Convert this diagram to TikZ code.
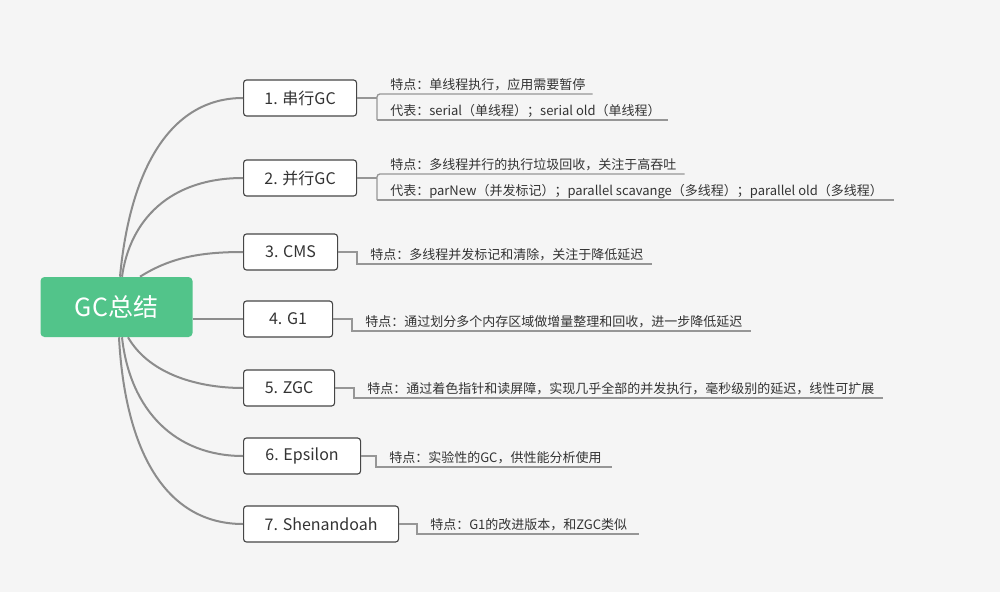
\documentclass[tikz,border=0pt]{standalone}
\usepackage{fontspec}
\setmainfont{Noto Sans CJK SC}
\usetikzlibrary{calc}
\newdimen\pxu \pxu=0.75pt
\newcommand\leaftext[2]{\makebox[#1\pxu][l]{\hspace{13\pxu}#2}}
\definecolor{bg}{RGB}{245,245,245}
\definecolor{rootgreen}{RGB}{82,196,138}
\definecolor{edgegray}{RGB}{140,140,140}
\definecolor{leafgray}{RGB}{150,150,150}
\definecolor{boxline}{RGB}{70,70,70}
\definecolor{txt}{RGB}{51,51,51}
\begin{document}
\begin{tikzpicture}[x=0.75pt,y=-0.75pt,
  rootbox/.style={fill=rootgreen, rounded corners=4\pxu, minimum width=152*0.75pt,
    minimum height=60*0.75pt, inner sep=0pt, text=white, font=\fontsize{18.75}{22}\selectfont},
  childbox/.style={draw=boxline, line width=0.85pt, fill=white, rounded corners=3\pxu,
    minimum height=36*0.75pt, minimum width=#1*0.75pt, inner sep=0pt, anchor=west,
    text=txt, font=\fontsize{12}{14}\selectfont},
  leaf/.style={anchor=south west, inner xsep=0pt, inner ysep=2\pxu, text height=10\pxu,
    text depth=2.5\pxu, text=txt, font=\fontsize{9.75}{12}\selectfont},
  edge/.style={draw=edgegray, line width=1.5pt},
  leafline/.style={draw=leafgray, line width=1pt}]
\useasboundingbox (0,0) rectangle (1000,592);
\fill[bg] (0,0) rectangle (1000,592);

\node[rootbox] (r) at (116.5,307) {GC总结};

\node[childbox=113] (c1) at (243,98)  {1. 串行GC};
\node[childbox=113] (c2) at (243,178) {2. 并行GC};
\node[childbox=94]  (c3) at (243,252) {3. CMS};
\node[childbox=89]  (c4) at (243,319) {4. G1};
\node[childbox=91]  (c5) at (243,388) {5. ZGC};
\node[childbox=117] (c6) at (243,456) {6. Epsilon};
\node[childbox=155] (c7) at (243,524) {7. Shenandoah};

\node[leaf] (l1a) at (377,94)  {\leaftext{215}{特点：单线程执行，应用需要暂停}};
\node[leaf] (l1b) at (377,120) {\leaftext{290}{代表：serial（单线程）；serial old（单线程）}};
\node[leaf] (l2a) at (377,174) {\leaftext{307}{特点：多线程并行的执行垃圾回收，关注于高吞吐}};
\node[leaf] (l2b) at (377,200) {\leaftext{516}{代表：parNew（并发标记）；parallel scavange（多线程）；parallel old（多线程）}};
\node[leaf] (l3) at (357,264) {\leaftext{294}{特点：多线程并发标记和清除，关注于降低延迟}};
\node[leaf] (l4) at (352,331) {\leaftext{398}{特点：通过划分多个内存区域做增量整理和回收，进一步降低延迟}};
\node[leaf] (l5) at (354,398) {\leaftext{528}{特点：通过着色指针和读屏障，实现几乎全部的并发执行，毫秒级别的延迟，线性可扩展}};
\node[leaf] (l6) at (376,467) {\leaftext{235}{特点：实验性的GC，供性能分析使用}};
\node[leaf] (l7) at (417,534) {\leaftext{221}{特点：G1的改进版本，和ZGC类似}};

% main connectors
\draw[edge] ($(r.north)+(3.5,0)$) .. controls +(10,-107) and +(-73,0) .. (c1.west);
\draw[edge] ($(r.north)+(5.5,0)$) .. controls +(8,-57) and +(-73,0) .. (c2.west);
\draw[edge] ($(r.north)+(23.5,0)$) .. controls +(30,-19) and +(-43,0) .. (c3.west);
\draw[edge] ($(r.east)+(0,12)$) -- (c4.west);
\draw[edge] ($(r.south)+(11.5,0)$) .. controls +(22,38) and +(-43,0) .. (c5.west);
\draw[edge] ($(r.south)+(5.5,0)$) .. controls +(8,73) and +(-68,0) .. (c6.west);
\draw[edge] ($(r.south)+(2.5,0)$) .. controls +(6,113) and +(-78,0) .. (c7.west);

% leaf connectors
\draw[leafline] (c1.east) -- (c1.east -| l1a.west);
\draw[leafline, rounded corners=3\pxu] (l1b.south west) -- (l1a.south west) -- (l1a.south east);
\draw[leafline] (l1b.south west) -- (l1b.south east);
\draw[leafline] (c2.east) -- (c2.east -| l2a.west);
\draw[leafline, rounded corners=3\pxu] (l2b.south west) -- (l2a.south west) -- (l2a.south east);
\draw[leafline] (l2b.south west) -- (l2b.south east);
\draw[leafline] (c3.east) -| (l3.south west) -- (l3.south east);
\draw[leafline] (c4.east) -| (l4.south west) -- (l4.south east);
\draw[leafline] (c5.east) -| (l5.south west) -- (l5.south east);
\draw[leafline] (c6.east) -| (l6.south west) -- (l6.south east);
\draw[leafline] (c7.east) -| (l7.south west) -- (l7.south east);
\end{tikzpicture}
\end{document}
